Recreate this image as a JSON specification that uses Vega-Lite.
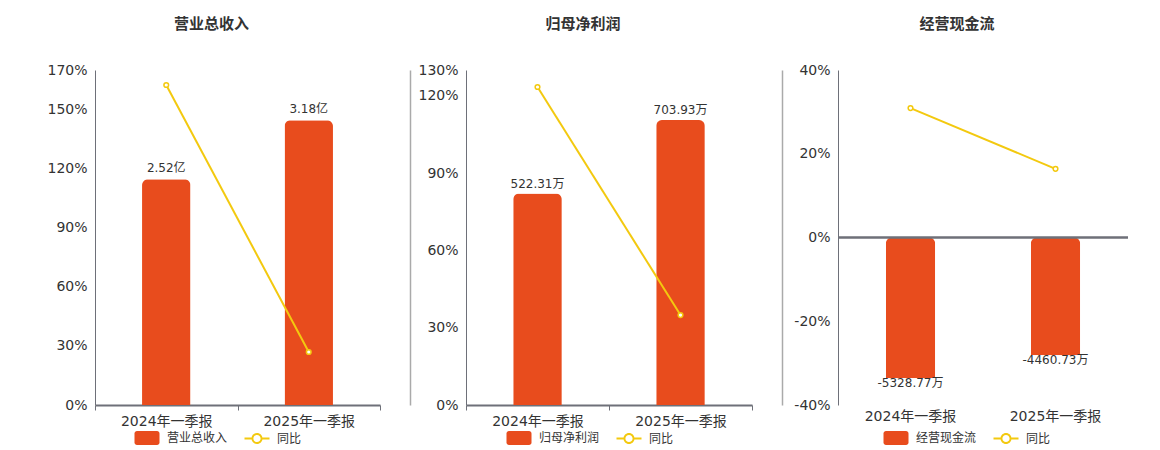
{
  "$schema": "https://vega.github.io/schema/vega-lite/v6.json",
  "background": "white",
  "padding": {"left": 46, "top": 17, "right": 5, "bottom": 5},
  "config": {
    "font": "DejaVu Sans, Noto Sans CJK SC",
    "view": {"stroke": null},
    "title": {"fontSize": 15, "fontWeight": "bold", "color": "#333333", "dx": -26, "offset": 31, "anchor": "middle"},
    "legend": {"labelFontSize": 12, "labelColor": "#333333", "symbolSize": 400, "symbolStrokeWidth": 0, "labelOffset": 10, "columnPadding": 16, "title": null}
  },
  "spacing": 86,
  "bounds": "flush",
  "resolve": {"scale": {"color": "independent"}, "legend": {"color": "independent"}},
  "hconcat": [
    {
      "width": 285, "height": 335,
      "title": {"text": "营业总收入"},
      "data": {"values": [
        {"period": "2024年一季报", "value": 2.52, "label": "2.52亿", "yoy": 162.4, "series": "营业总收入"},
        {"period": "2025年一季报", "value": 3.18, "label": "3.18亿", "yoy": 26.9, "series": "营业总收入"}
      ]},
      "layer": [
        {"layer": [
          {"mark": {"type": "bar", "width": {"band": 0.34}, "cornerRadiusEnd": 6},
           "encoding": {
             "x": {"field": "period", "type": "nominal", "sort": null, "title": null, "scale": {"paddingInner": 0, "paddingOuter": 0},
                   "axis": {"labelAngle": 0, "labelFontSize": 14, "labelColor": "#333333", "labelPadding": 4, "domainColor": "#6E7079", "domainWidth": 2, "tickColor": "#6E7079", "tickBand": "extent", "tickSize": 5, "grid": false}},
             "y": {"field": "value", "type": "quantitative", "scale": {"domain": [0, 3.74], "nice": false},
                   "axis": {"orient": "right", "offset": 30, "labels": false, "ticks": false, "grid": false, "title": null, "domainColor": "#AAAAAA", "domainWidth": 1.5}},
             "color": {"field": "series", "type": "nominal", "scale": {"domain": ["营业总收入", "同比"], "range": ["#E84C1D", "#F3C90F"]},
                       "legend": {"orient": "none", "direction": "horizontal", "legendX": 42, "legendY": 358,
                                  "encode": {"symbols": {"update": {
                                    "shape": {"signal": "datum.value === '同比' ? 'M-1.25,-0.1H-0.5V0.1H-1.25Z M0.5,-0.1H1.25V0.1H0.5Z M-0.55,0A0.55,0.55 0 1,1 0.55,0A0.55,0.55 0 1,1 -0.55,0Z M-0.36,0A0.36,0.36 0 1,0 0.36,0A0.36,0.36 0 1,0 -0.36,0Z' : 'M-1,-0.7H1A0.25,0.25 0 0,1 1.25,-0.45V0.45A0.25,0.25 0 0,1 1,0.7H-1A0.25,0.25 0 0,1 -1.25,0.45V-0.45A0.25,0.25 0 0,1 -1,-0.7Z'"}}}}}}
           }},
          {"mark": {"type": "text", "baseline": "middle", "dy": -11, "fontSize": 12, "color": "#333333"},
           "encoding": {
             "x": {"field": "period", "type": "nominal", "sort": null},
             "y": {"field": "value", "type": "quantitative"},
             "text": {"field": "label"}
           }}
        ]},
        {"layer": [
          {"mark": {"type": "line", "color": "#F3C90F", "strokeWidth": 2},
           "encoding": {
             "x": {"field": "period", "type": "nominal", "sort": null},
             "y": {"field": "yoy", "type": "quantitative", "scale": {"domain": [0, 170], "nice": false},
                   "axis": {"orient": "left", "values": [0, 30, 60, 90, 120, 150, 170], "labelExpr": "datum.value + '%'", "title": null, "ticks": false, "domainColor": "#6E7079", "gridColor": "#E0E6F1", "labelFontSize": 14, "labelColor": "#333333", "labelPadding": 8}}
           }},
          {"mark": {"type": "point", "shape": "circle", "filled": true, "fill": "white", "stroke": "#F3C90F", "strokeWidth": 1.5, "size": 22, "opacity": 1},
           "encoding": {
             "x": {"field": "period", "type": "nominal", "sort": null},
             "y": {"field": "yoy", "type": "quantitative"}
           }}
        ]}
      ],
      "resolve": {"scale": {"y": "independent"}}
    },
    {
      "width": 286, "height": 335,
      "title": {"text": "归母净利润"},
      "data": {"values": [
        {"period": "2024年一季报", "value": 522.31, "label": "522.31万", "yoy": 123.4, "series": "归母净利润"},
        {"period": "2025年一季报", "value": 703.93, "label": "703.93万", "yoy": 34.9, "series": "归母净利润"}
      ]},
      "layer": [
        {"layer": [
          {"mark": {"type": "bar", "width": {"band": 0.34}, "cornerRadiusEnd": 6},
           "encoding": {
             "x": {"field": "period", "type": "nominal", "sort": null, "title": null, "scale": {"paddingInner": 0, "paddingOuter": 0},
                   "axis": {"labelAngle": 0, "labelFontSize": 14, "labelColor": "#333333", "labelPadding": 4, "domainColor": "#6E7079", "domainWidth": 2, "tickColor": "#6E7079", "tickBand": "extent", "tickSize": 5, "grid": false}},
             "y": {"field": "value", "type": "quantitative", "scale": {"domain": [0, 827.4], "nice": false},
                   "axis": {"orient": "right", "offset": 30, "labels": false, "ticks": false, "grid": false, "title": null, "domainColor": "#AAAAAA", "domainWidth": 1.5}},
             "color": {"field": "series", "type": "nominal", "scale": {"domain": ["归母净利润", "同比"], "range": ["#E84C1D", "#F3C90F"]},
                       "legend": {"orient": "none", "direction": "horizontal", "legendX": 43, "legendY": 358,
                                  "encode": {"symbols": {"update": {
                                    "shape": {"signal": "datum.value === '同比' ? 'M-1.25,-0.1H-0.5V0.1H-1.25Z M0.5,-0.1H1.25V0.1H0.5Z M-0.55,0A0.55,0.55 0 1,1 0.55,0A0.55,0.55 0 1,1 -0.55,0Z M-0.36,0A0.36,0.36 0 1,0 0.36,0A0.36,0.36 0 1,0 -0.36,0Z' : 'M-1,-0.7H1A0.25,0.25 0 0,1 1.25,-0.45V0.45A0.25,0.25 0 0,1 1,0.7H-1A0.25,0.25 0 0,1 -1.25,0.45V-0.45A0.25,0.25 0 0,1 -1,-0.7Z'"}}}}}}
           }},
          {"mark": {"type": "text", "baseline": "middle", "dy": -10, "fontSize": 12, "color": "#333333"},
           "encoding": {
             "x": {"field": "period", "type": "nominal", "sort": null},
             "y": {"field": "value", "type": "quantitative"},
             "text": {"field": "label"}
           }}
        ]},
        {"layer": [
          {"mark": {"type": "line", "color": "#F3C90F", "strokeWidth": 2},
           "encoding": {
             "x": {"field": "period", "type": "nominal", "sort": null},
             "y": {"field": "yoy", "type": "quantitative", "scale": {"domain": [0, 130], "nice": false},
                   "axis": {"orient": "left", "values": [0, 30, 60, 90, 120, 130], "labelExpr": "datum.value + '%'", "title": null, "ticks": false, "domainColor": "#6E7079", "gridColor": "#E0E6F1", "labelFontSize": 14, "labelColor": "#333333", "labelPadding": 8}}
           }},
          {"mark": {"type": "point", "shape": "circle", "filled": true, "fill": "white", "stroke": "#F3C90F", "strokeWidth": 1.5, "size": 22, "opacity": 1},
           "encoding": {
             "x": {"field": "period", "type": "nominal", "sort": null},
             "y": {"field": "yoy", "type": "quantitative"}
           }}
        ]}
      ],
      "resolve": {"scale": {"y": "independent"}}
    },
    {
      "width": 290, "height": 335,
      "title": {"text": "经营现金流"},
      "data": {"values": [
        {"period": "2024年一季报", "value": -5328.77, "label": "-5328.77万", "yoy": 30.9, "series": "经营现金流"},
        {"period": "2025年一季报", "value": -4460.73, "label": "-4460.73万", "yoy": 16.4, "series": "经营现金流"}
      ]},
      "layer": [
        {"layer": [
          {"mark": {"type": "bar", "width": {"band": 0.34}, "cornerRadiusEnd": 6},
           "encoding": {
             "x": {"field": "period", "type": "nominal", "sort": null, "title": null, "scale": {"paddingInner": 0, "paddingOuter": 0},
                   "axis": {"labelAngle": 0, "labelFontSize": 14, "labelColor": "#333333", "labelPadding": 4, "domain": false, "ticks": false, "grid": false}},
             "y": {"field": "value", "type": "quantitative", "scale": {"domain": [-6344, 6344], "nice": false}, "axis": null},
             "color": {"field": "series", "type": "nominal", "scale": {"domain": ["经营现金流", "同比"], "range": ["#E84C1D", "#F3C90F"]},
                       "legend": {"orient": "none", "direction": "horizontal", "legendX": 48, "legendY": 358,
                                  "encode": {"symbols": {"update": {
                                    "shape": {"signal": "datum.value === '同比' ? 'M-1.25,-0.1H-0.5V0.1H-1.25Z M0.5,-0.1H1.25V0.1H0.5Z M-0.55,0A0.55,0.55 0 1,1 0.55,0A0.55,0.55 0 1,1 -0.55,0Z M-0.36,0A0.36,0.36 0 1,0 0.36,0A0.36,0.36 0 1,0 -0.36,0Z' : 'M-1,-0.7H1A0.25,0.25 0 0,1 1.25,-0.45V0.45A0.25,0.25 0 0,1 1,0.7H-1A0.25,0.25 0 0,1 -1.25,0.45V-0.45A0.25,0.25 0 0,1 -1,-0.7Z'"}}}}}}
           }},
          {"mark": {"type": "text", "baseline": "middle", "dy": 5, "fontSize": 12, "color": "#333333"},
           "encoding": {
             "x": {"field": "period", "type": "nominal", "sort": null},
             "y": {"field": "value", "type": "quantitative"},
             "text": {"field": "label"}
           }}
        ]},
        {"layer": [
          {"mark": {"type": "rule", "color": "#6E7079", "strokeWidth": 2},
           "encoding": {
             "y": {"datum": 0, "type": "quantitative", "scale": {"domain": [-40, 40], "nice": false},
                   "axis": {"orient": "left", "values": [-40, -20, 0, 20, 40], "labelExpr": "datum.value + '%'", "title": null, "ticks": false, "domainColor": "#6E7079", "gridColor": "#E0E6F1", "labelFontSize": 14, "labelColor": "#333333", "labelPadding": 8}}
           }},
          {"mark": {"type": "line", "color": "#F3C90F", "strokeWidth": 2},
           "encoding": {
             "x": {"field": "period", "type": "nominal", "sort": null},
             "y": {"field": "yoy", "type": "quantitative"}
           }},
          {"mark": {"type": "point", "shape": "circle", "filled": true, "fill": "white", "stroke": "#F3C90F", "strokeWidth": 1.5, "size": 22, "opacity": 1},
           "encoding": {
             "x": {"field": "period", "type": "nominal", "sort": null},
             "y": {"field": "yoy", "type": "quantitative"}
           }}
        ]}
      ],
      "resolve": {"scale": {"y": "independent"}}
    }
  ]
}
